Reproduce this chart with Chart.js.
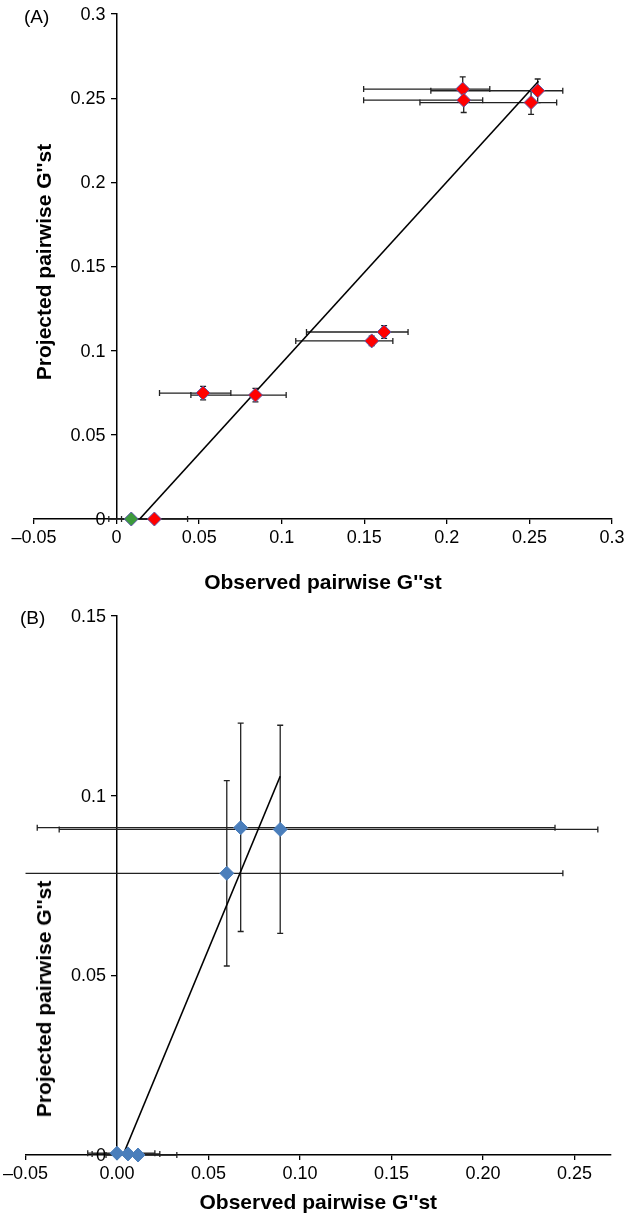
<!DOCTYPE html>
<html>
<head>
<meta charset="utf-8">
<script src="https://cdn.jsdelivr.net/npm/chart.js@4.4.0/dist/chart.umd.min.js"></script>
<style>
body { margin: 0; background: #fff; width: 628px; height: 1219px; position: relative; overflow: hidden; font-family: "Liberation Sans", Arial, sans-serif; }
.box { position: absolute; left: 0; width: 628px; }
#boxA { top: 0; height: 600px; }
#boxB { top: 600px; height: 619px; }
.panel { position: absolute; font-size: 19px; color: #000; }
.ytitle { position: absolute; font-weight: bold; font-size: 21px; white-space: nowrap; color: #000; transform: translate(-50%, -50%) rotate(-90deg); }
</style>
</head>
<body>
<div class="box" id="boxA"><canvas id="canvas1" width="628" height="600"></canvas></div>
<div class="box" id="boxB"><canvas id="canvas2" width="628" height="619"></canvas></div>
<div class="panel" style="left:24px; top:6px;">(A)</div>
<div class="panel" style="left:20px; top:607px;">(B)</div>
<div class="ytitle" style="left:44px; top:262px;">Projected pairwise G''st</div>
<div class="ytitle" style="left:44px; top:999px;">Projected pairwise G''st</div>
<script>
// panel A - red points
var obsA = [0.2096, 0.2550, 0.2102, 0.2510, 0.1620, 0.1545, 0.0524, 0.0841, 0.0229];
var projA = [0.2554, 0.2544, 0.2488, 0.2474, 0.1111, 0.1058, 0.0748, 0.0736, 0];
var obsLowA = [0.1496, 0.1903, 0.1496, 0.1837, 0.1150, 0.1085, 0.0260, 0.0450, 0.0030];
var obsHighA = [0.2260, 0.2702, 0.2217, 0.2665, 0.1765, 0.1673, 0.0692, 0.1027, 0.0430];
var projErrA = [0.0073, 0.0070, 0.0073, 0.0070, 0.0038, 0.0028, 0.0040, 0.0040, 0];
// panel A - green point
var obsGreenA = [0.0089];
var projGreenA = [0];
var obsLowGreenA = [-0.0047];
var obsHighGreenA = [0.0220];
// panel A - trend line
var lineXA = [0.014, 0.2555];
var lineYA = [0, 0.26];
var xTicksA = [-0.05, 0, 0.05, 0.1, 0.15, 0.2, 0.25, 0.3];
var xLabelsA = ['\u20130.05', '0', '0.05', '0.1', '0.15', '0.2', '0.25', '0.3'];
var yTicksA = [0, 0.05, 0.1, 0.15, 0.2, 0.25, 0.3];
var yLabelsA = ['0', '0.05', '0.1', '0.15', '0.2', '0.25', '0.3'];

// panel B - blue points
var obsB = [0.0676, 0.0892, 0.0600, 0.0000, 0.0060, 0.0115];
var projB = [0.0911, 0.0906, 0.0784, 0.0005, 0.0003, 0];
var obsLowB = [-0.0436, -0.0316, -0.0650, -0.0160, -0.0136, -0.0060];
var obsHighB = [0.2394, 0.2628, 0.2437, 0.0207, 0.0234, 0.0327];
var projLowB = [0.0622, 0.0617, 0.0526, null, null, null];
var projHighB = [0.1202, 0.1196, 0.1042, null, null, null];
// panel B - trend line
var lineXB = [0.0033, 0.0892];
var lineYB = [0, 0.1054];
var xTicksB = [-0.05, 0, 0.05, 0.1, 0.15, 0.2, 0.25];
var xLabelsB = ['\u20130.05', '0.00', '0.05', '0.10', '0.15', '0.20', '0.25'];
var yTicksB = [0, 0.05, 0.1, 0.15];
var yLabelsB = ['0', '0.05', '0.1', '0.15'];

var fontFam = "'Liberation Sans', Arial, sans-serif";
Chart.defaults.font.family = fontFam;
Chart.defaults.color = '#000';

function pts(xs, ys) {
    var out = [];
    for (let i = 0; i < xs.length; i++) out.push({x: xs[i], y: ys[i]});
    return out;
}

// draws x/y error bars under the markers
var errorBars = {
    id: 'errorBars',
    beforeDatasetsDraw(chart) {
        var ctx = chart.ctx, sx = chart.scales.x, sy = chart.scales.y, a = chart.chartArea;
        ctx.save();
        ctx.beginPath();
        ctx.rect(a.left, a.top - 10, a.right - a.left, a.bottom - a.top + 20);
        ctx.clip();
        ctx.strokeStyle = '#222';
        ctx.lineWidth = 1.3;
        var cap = 3;
        chart.data.datasets.forEach(function(ds) {
            if (!ds.err) return;
            var e = ds.err;
            ds.data.forEach(function(p, i) {
                var px = sx.getPixelForValue(p.x), py = sy.getPixelForValue(p.y);
                ctx.beginPath();
                if (e.xLow) {
                    var x1 = sx.getPixelForValue(e.xLow[i]), x2 = sx.getPixelForValue(e.xHigh[i]);
                    ctx.moveTo(x1, py); ctx.lineTo(x2, py);
                    ctx.moveTo(x1, py - cap); ctx.lineTo(x1, py + cap);
                    ctx.moveTo(x2, py - cap); ctx.lineTo(x2, py + cap);
                }
                if (e.yLow && e.yLow[i] != null && e.yLow[i] !== e.yHigh[i]) {
                    var y1 = sy.getPixelForValue(e.yLow[i]), y2 = sy.getPixelForValue(e.yHigh[i]);
                    ctx.moveTo(px, y1); ctx.lineTo(px, y2);
                    ctx.moveTo(px - cap, y1); ctx.lineTo(px + cap, y1);
                    ctx.moveTo(px - cap, y2); ctx.lineTo(px + cap, y2);
                }
                ctx.stroke();
            });
        });
        ctx.restore();
    }
};

// y axis sits at x = 0, so its tick labels are placed left of the tick marks here
var yTickLabels = {
    id: 'yTickLabels',
    afterDraw(chart) {
        var ctx = chart.ctx, sx = chart.scales.x, sy = chart.scales.y;
        var labels = chart.options.yLabelList;
        var ax = sx.getPixelForValue(0);
        ctx.save();
        ctx.font = '18px ' + fontFam;
        ctx.fillStyle = '#000';
        ctx.textAlign = 'right';
        ctx.textBaseline = 'middle';
        sy.ticks.forEach(function(t, i) {
            ctx.fillText(labels[i], ax - 11, sy.getPixelForValue(t.value) + 1);
        });
        ctx.restore();
    }
};

function axes(xTicks, xLabels, yTicks, xmin, xmax, ymax, xHeight, titlePad) {
    return {
        x: {
            type: 'linear', position: 'bottom', min: xmin, max: xmax,
            afterBuildTicks: function(s) { s.ticks = xTicks.map(v => ({value: v})); },
            afterFit: function(s) { s.height = xHeight; },
            grid: { drawOnChartArea: false, drawTicks: true, tickLength: 5, color: '#000', lineWidth: 1.3 },
            border: { color: '#000', width: 1.5 },
            ticks: { autoSkip: false, maxRotation: 0, padding: 3, font: { size: 18 }, color: '#000',
                     callback: function(v, i) { return xLabels[i]; } },
            title: { display: true, text: "Observed pairwise G''st", color: '#000',
                     font: { size: 21, weight: 'bold' }, padding: { top: 0, bottom: titlePad } }
        },
        y: {
            type: 'linear', position: { x: 0 }, min: 0, max: ymax,
            afterBuildTicks: function(s) { s.ticks = yTicks.map(v => ({value: v})); },
            grid: { drawOnChartArea: false, drawTicks: true, tickLength: 5, color: '#000', lineWidth: 1.3 },
            border: { color: '#000', width: 1.5 },
            ticks: { display: false }
        }
    };
}

var commonPlugins = { legend: { display: false }, tooltip: { enabled: false } };

var myChart1 = new Chart(document.getElementById('canvas1'), {
    type: 'scatter',
    data: {
        datasets: [{
            data: pts(obsA, projA),
            pointStyle: 'rectRot', pointRadius: 7, backgroundColor: '#ff0000', borderColor: '#5b57a6', borderWidth: 1,
            err: { xLow: obsLowA, xHigh: obsHighA,
                   yLow: projA.map((v, i) => v - projErrA[i]), yHigh: projA.map((v, i) => v + projErrA[i]) },
            clip: false, order: 1
        }, {
            data: pts(obsGreenA, projGreenA),
            pointStyle: 'rectRot', pointRadius: 7, backgroundColor: '#3c9a3c', borderColor: '#5b57a6', borderWidth: 1,
            err: { xLow: obsLowGreenA, xHigh: obsHighGreenA },
            clip: false, order: 1
        }, {
            data: pts(lineXA, lineYA),
            showLine: true, borderColor: '#000', borderWidth: 1.6, pointRadius: 0, order: 2
        }]
    },
    options: {
        responsive: false, animation: false,
        yLabelList: yLabelsA,
        layout: { padding: { left: 34, right: 16, top: 14, bottom: 0 } },
        scales: axes(xTicksA, xLabelsA, yTicksA, -0.05, 0.3, 0.3, 81, 4),
        plugins: commonPlugins
    },
    plugins: [errorBars, yTickLabels]
});

var myChart2 = new Chart(document.getElementById('canvas2'), {
    type: 'scatter',
    data: {
        datasets: [{
            data: pts(obsB, projB),
            pointStyle: 'rectRot', pointRadius: 7, backgroundColor: '#4a7ebb', borderColor: '#4a7ebb', borderWidth: 1,
            err: { xLow: obsLowB, xHigh: obsHighB, yLow: projLowB, yHigh: projHighB },
            clip: false, order: 1
        }, {
            data: pts(lineXB, lineYB),
            showLine: true, borderColor: '#000', borderWidth: 1.6, pointRadius: 0, order: 2
        }]
    },
    options: {
        responsive: false, animation: false,
        yLabelList: yLabelsB,
        layout: { padding: { left: 24, right: 17, top: 16, bottom: 0 } },
        scales: axes(xTicksB, xLabelsB, yTicksB, -0.05, 0.27, 0.15, 64, 3),
        plugins: commonPlugins
    },
    plugins: [errorBars, yTickLabels]
});
</script>
</body>
</html>
